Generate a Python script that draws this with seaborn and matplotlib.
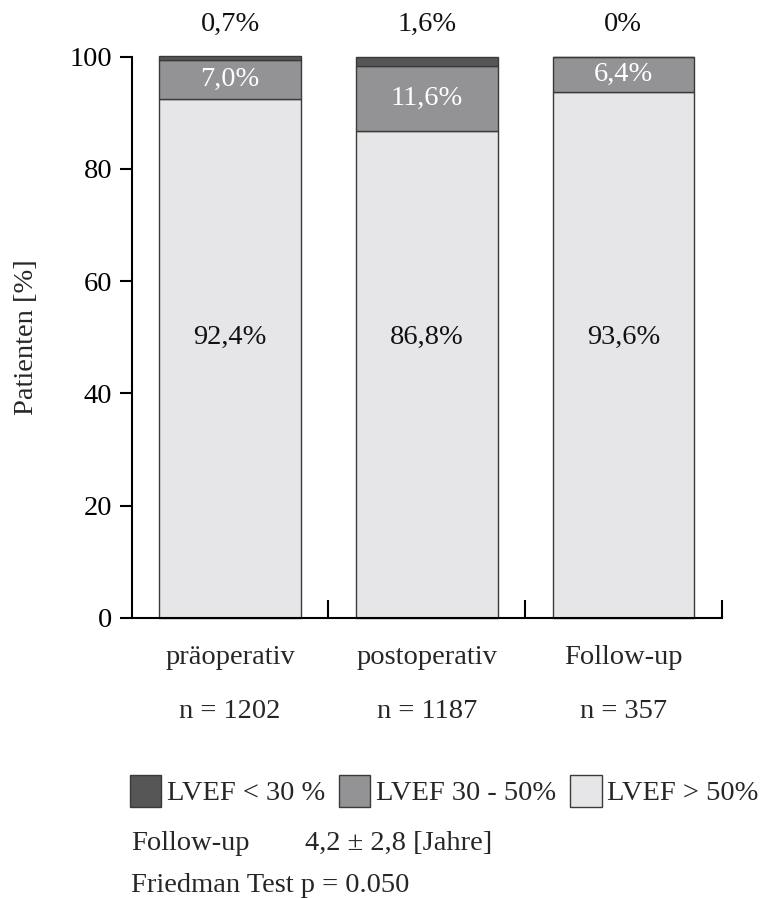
import matplotlib
matplotlib.use("Agg")
import matplotlib.pyplot as plt
import matplotlib.transforms as mtransforms
from matplotlib.patches import Patch
import seaborn as sns
import pandas as pd

# Timepoints and group sizes
phases = ["präoperativ", "postoperativ", "Follow-up"]
n_labels = ["n = 1202", "n = 1187", "n = 357"]

# LVEF distribution per timepoint (percent of patients)
lvef_high = [92.4, 86.8, 93.6]   # LVEF > 50%
lvef_mid = [7.0, 11.6, 6.4]      # LVEF 30 - 50%
lvef_low = [0.7, 1.6, 0.0]       # LVEF < 30 %

high_text = ["92,4%", "86,8%", "93,6%"]
mid_text = ["7,0%", "11,6%", "6,4%"]
low_text = ["0,7%", "1,6%", "0%"]

legend_labels = ["LVEF < 30 %", "LVEF 30 - 50%", "LVEF > 50%"]

c_low, c_mid, c_high = "#565656", "#939395", "#e6e6e8"
edge = "#3a3a3a"

sns.set_theme(style="ticks")
plt.rcParams["font.family"] = ["Liberation Serif", "DejaVu Serif"]

df = pd.DataFrame({"phase": phases, "high": lvef_high, "mid": lvef_mid, "low": lvef_low})
df["mid_bottom"] = df["high"]
df["low_bottom"] = df["high"] + df["mid"]

fig = plt.figure(figsize=(7.71, 8.98), dpi=100)
ax = fig.add_axes([0.171, 0.312, 0.765, 0.625])

fs = 20.5
bw = 0.72
common = dict(x="phase", order=phases, width=bw, edgecolor=edge, linewidth=1.0, ax=ax)
sns.barplot(data=df, y="high", color=c_high, saturation=1, **common)
sns.barplot(data=df, y="mid", bottom=df["mid_bottom"], color=c_mid, saturation=1, **common)
sns.barplot(data=df, y="low", bottom=df["low_bottom"], color=c_low, saturation=1, **common)
for p in ax.patches:
    p.set_clip_on(False)

ax.set_xlim(-0.5, 2.5)
ax.set_ylim(0, 100)
ax.set_yticks([0, 20, 40, 60, 80, 100])
ax.tick_params(axis="y", labelsize=fs, length=9, width=1.5, direction="out", pad=5, colors="black")
ax.set_xticks([0.5, 1.5, 2.5])
ax.set_xticklabels([])
ax.tick_params(axis="x", length=13, width=1.5, direction="in", colors="black")
ax.set_xlabel("")
ax.set_ylabel("Patienten [%]", fontsize=fs, labelpad=22)
for s in ["top", "right"]:
    ax.spines[s].set_visible(False)
for s in ["left", "bottom"]:
    ax.spines[s].set_linewidth(1.5)
    ax.spines[s].set_color("black")

# Value annotations
for i in range(3):
    ax.text(i, 50, high_text[i], ha="center", va="center", fontsize=fs, color="#111111")
    mid_center = lvef_high[i] + lvef_mid[i] / 2
    ax.text(i, mid_center, mid_text[i], ha="center", va="center", fontsize=fs, color="white")
    ax.text(i, 105.8, low_text[i], ha="center", va="center", fontsize=fs, color="#111111")

# Category and group-size labels below the axis
trans = mtransforms.blended_transform_factory(ax.transData, fig.transFigure)
for i in range(3):
    fig.text(i, 1 - 658 / 898, phases[i], transform=trans, ha="center", va="center", fontsize=fs)
    fig.text(i, 1 - 712 / 898, n_labels[i], transform=trans, ha="center", va="center", fontsize=fs)

handles = [Patch(facecolor=c, edgecolor=edge, linewidth=1.0) for c in (c_low, c_mid, c_high)]
fig.legend(handles, legend_labels, loc="center left", bbox_to_anchor=(0.168, 1 - 791 / 898),
           ncol=3, frameon=False, fontsize=fs, handlelength=1.1, handleheight=1.4,
           handletextpad=0.2, columnspacing=0.5, borderaxespad=0, borderpad=0)

fig.text(131 / 771, 1 - 843 / 898, "Follow-up", ha="left", va="center", fontsize=fs)
fig.text(305 / 771, 1 - 843 / 898, "4,2 ± 2,8 [Jahre]", ha="left", va="center", fontsize=fs)
fig.text(131 / 771, 1 - 885 / 898, "Friedman Test p = 0.050", ha="left", va="center", fontsize=fs)

fig.savefig("out.png", dpi=100, facecolor="white")
